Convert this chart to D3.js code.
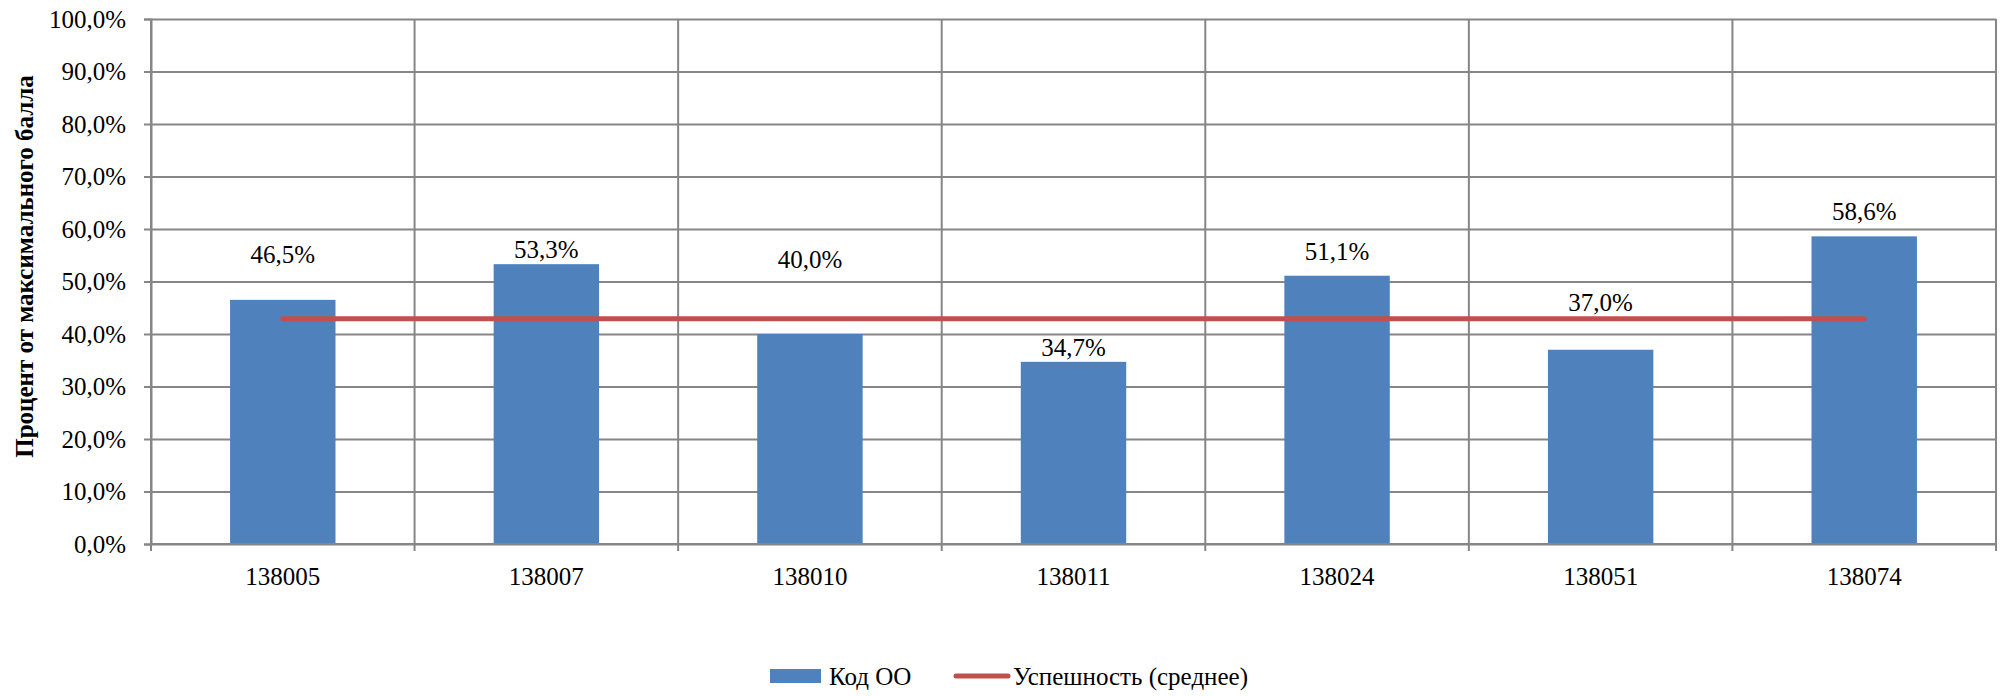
<!DOCTYPE html>
<html>
<head>
<meta charset="utf-8">
<script src="https://cdn.jsdelivr.net/npm/d3@7"></script>
<style>
  body { margin: 0; background: #fff; }
  svg text { font-family: "Liberation Serif", "DejaVu Serif", serif !important; fill: #000; }
</style>
</head>
<body>
<div id="chart"></div>
<script>
// Data
const categories = ["138005", "138007", "138010", "138011", "138024", "138051", "138074"];
const barValues = [46.5, 53.3, 40.0, 34.7, 51.1, 37.0, 58.6];
const avgValues = [42.9, 42.9, 42.9, 42.9, 42.9, 42.9, 42.9];
// data labels were moved by hand in the original, level (in %) of each label centre
const labelLevels = [55.2, 56.2, 54.3, 37.5, 55.8, 46.1, 63.3];
const yTicks = [0, 10, 20, 30, 40, 50, 60, 70, 80, 90, 100];
const seriesNames = ["Код ОО", "Успешность (среднее)"];
const yTitle = "Процент от максимального балла";

const fmt = v => v.toFixed(1).replace(".", ",") + "%";
const serif = "'Liberation Serif', 'DejaVu Serif', serif";

// Chart dimensions
const margin = { top: 19, right: 11, bottom: 152, left: 151 },
  width = 2007 - margin.left - margin.right,
  height = 696 - margin.top - margin.bottom;

const gridColor = "#868686";

const root = d3.select("#chart").append("svg")
  .attr("width", 2007)
  .attr("height", 696)
  .attr("font-family", serif);

const svg = root.append("g")
  .attr("transform", `translate(${margin.left},${margin.top})`);

// Scales
const xCell = d3.scaleBand()
  .domain(categories)
  .range([0, width])
  .padding(0);

const x = d3.scaleBand()
  .domain(categories)
  .range([0, width])
  .paddingInner(0.6)
  .paddingOuter(0.3);

const y = d3.scaleLinear()
  .domain([0, 100])
  .range([height, 0]);

// Horizontal grid lines
svg.append("g")
  .call(d3.axisLeft(y).tickValues(yTicks).tickSize(-width).tickFormat(""))
  .call(g => g.select(".domain").remove())
  .selectAll("line")
  .attr("stroke", gridColor)
  .attr("stroke-width", 2);

// Vertical grid lines at category boundaries (also the bottom tick marks)
const bounds = categories.map(c => xCell(c)).concat([width]);
svg.append("g")
  .selectAll("line")
  .data(bounds)
  .join("line")
  .attr("x1", d => d)
  .attr("x2", d => d)
  .attr("y1", 0)
  .attr("y2", height + 7)
  .attr("stroke", gridColor)
  .attr("stroke-width", 2);

// Y axis
svg.append("g")
  .call(d3.axisLeft(y).tickValues(yTicks).tickSize(7).tickPadding(18).tickFormat(fmt))
  .attr("font-family", serif)
  .call(g => g.select(".domain").attr("stroke", gridColor).attr("stroke-width", 2))
  .call(g => g.selectAll("line").attr("stroke", gridColor).attr("stroke-width", 2))
  .call(g => g.selectAll("text")
    .style("font-size", "25px")
    .style("font-family", serif)
    .attr("fill", "#000"));

// Bars
svg.selectAll("rect.bar")
  .data(categories)
  .join("rect")
  .attr("class", "bar")
  .attr("x", d => x(d))
  .attr("y", (d, i) => y(barValues[i]))
  .attr("width", x.bandwidth())
  .attr("height", (d, i) => height - y(barValues[i]))
  .attr("fill", "#4F81BD");

// X axis line + labels
svg.append("line")
  .attr("x1", 0)
  .attr("x2", width)
  .attr("y1", height)
  .attr("y2", height)
  .attr("stroke", gridColor)
  .attr("stroke-width", 2);

svg.append("g")
  .selectAll("text")
  .data(categories)
  .join("text")
  .attr("x", d => xCell(d) + xCell.bandwidth() / 2)
  .attr("y", height + 41)
  .attr("text-anchor", "middle")
  .style("font-family", serif)
  .style("font-size", "25px")
  .text(d => d);

// Average line
const line = d3.line()
  .x((d, i) => xCell(categories[i]) + xCell.bandwidth() / 2)
  .y(d => y(d));

svg.append("path")
  .datum(avgValues)
  .attr("d", line)
  .attr("fill", "none")
  .attr("stroke", "#C0504D")
  .attr("stroke-width", 5)
  .attr("stroke-linecap", "round");

// Data labels
svg.append("g")
  .selectAll("text")
  .data(categories)
  .join("text")
  .attr("x", d => xCell(d) + xCell.bandwidth() / 2)
  .attr("y", (d, i) => y(labelLevels[i]))
  .attr("dy", "0.35em")
  .attr("text-anchor", "middle")
  .style("font-family", serif)
  .style("font-size", "25px")
  .text((d, i) => fmt(barValues[i]));

// Y title
root.append("text")
  .attr("transform", `translate(33, ${margin.top + height / 2 - 15}) rotate(-90)`)
  .attr("text-anchor", "middle")
  .style("font-family", serif)
  .style("font-size", "25px")
  .style("font-weight", "bold")
  .text(yTitle);

// Legend
const legend = root.append("g");

legend.append("rect")
  .attr("x", 770)
  .attr("y", 669)
  .attr("width", 51)
  .attr("height", 14)
  .attr("fill", "#4F81BD");

legend.append("text")
  .attr("x", 829)
  .attr("y", 685)
  .style("font-family", serif)
  .style("font-size", "25px")
  .text(seriesNames[0]);

legend.append("line")
  .attr("x1", 956)
  .attr("x2", 1008)
  .attr("y1", 676)
  .attr("y2", 676)
  .attr("stroke", "#C0504D")
  .attr("stroke-width", 5)
  .attr("stroke-linecap", "round");

legend.append("text")
  .attr("x", 1013)
  .attr("y", 685)
  .style("font-family", serif)
  .style("font-size", "25px")
  .text(seriesNames[1]);
</script>
</body>
</html>
